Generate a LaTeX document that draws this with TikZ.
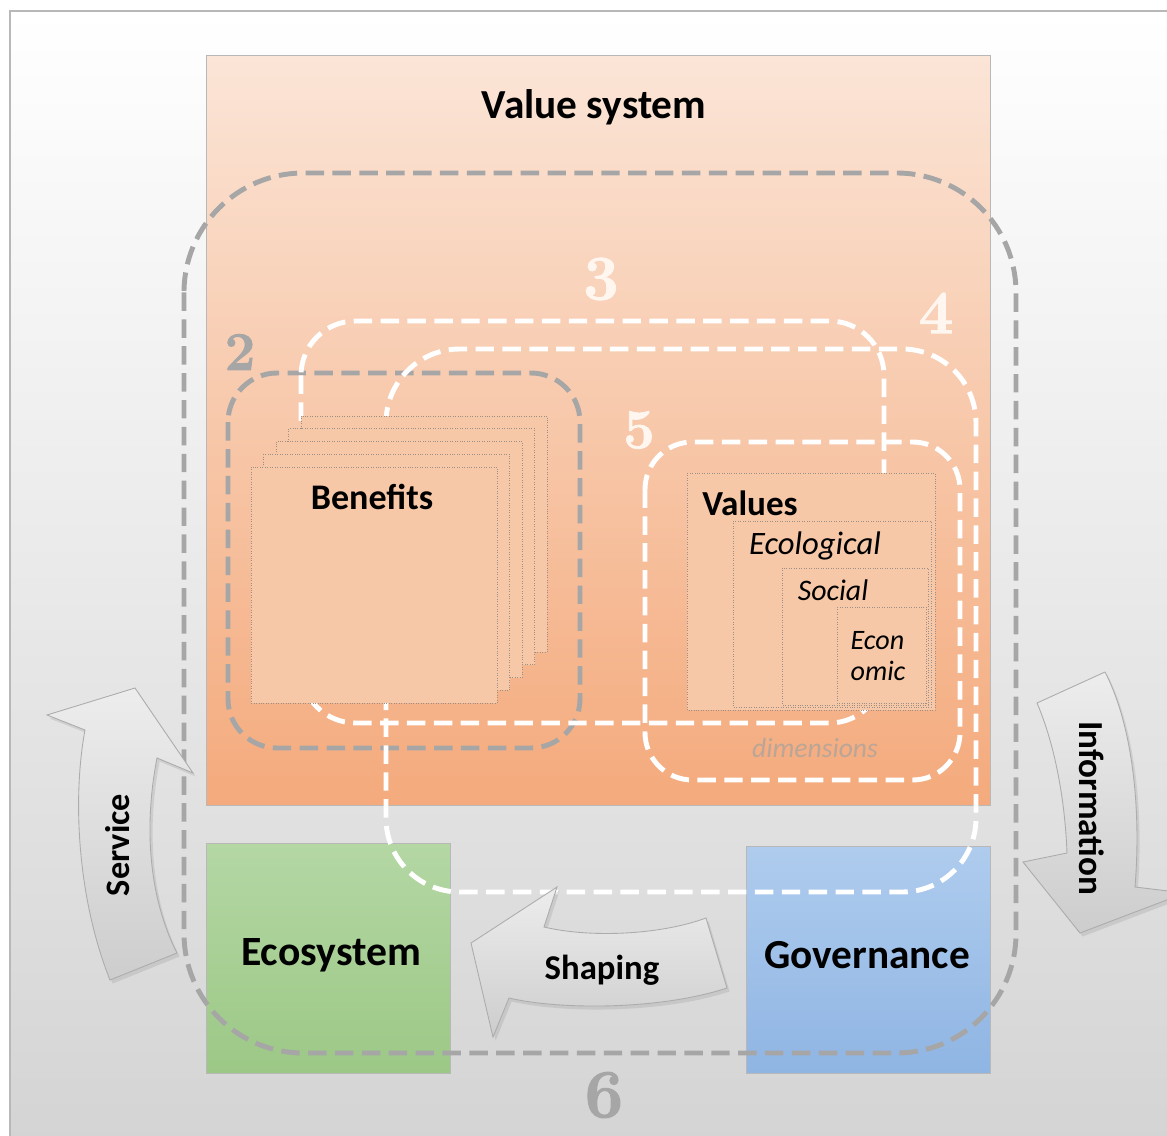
\documentclass[tikz,border=0pt]{standalone}
\usepackage{fontspec}
\setmainfont{Carlito}
\newfontfamily\numfont[FakeBold=1.6]{Latin Modern Roman}
\usetikzlibrary{shadows}

\definecolor{bgmid}{HTML}{EFEFEF}
\definecolor{bgbot}{HTML}{D3D3D3}
\definecolor{framegray}{HTML}{B8B8B8}
\definecolor{vstop}{HTML}{FBE5D7}
\definecolor{vsmid}{HTML}{F7C8A9}
\definecolor{vsbot}{HTML}{F4AA7C}
\definecolor{cardfill}{HTML}{F6C8A8}
\definecolor{cardline}{HTML}{9C8F88}
\definecolor{loopgray}{HTML}{A6A6A6}
\definecolor{numwhite}{HTML}{FFF6EF}
\definecolor{ecotop}{HTML}{B4D7A4}
\definecolor{ecobot}{HTML}{9CC886}
\definecolor{govtop}{HTML}{AFCCEE}
\definecolor{govbot}{HTML}{8FB5E3}
\definecolor{arrowtop}{HTML}{EDEDED}
\definecolor{arrowbot}{HTML}{CDCDCD}
\definecolor{arrowline}{HTML}{ACACAC}
\definecolor{dimtext}{HTML}{BBA597}

\begin{document}
\begin{tikzpicture}[x=0.02cm, y=-0.02cm,
  loopline/.style={dash pattern=on 10.5pt off 4.8pt, line width=2.8pt},
  grayloop/.style={loopline, draw=loopgray},
  whiteloop/.style={loopline, draw=white},
  card/.style={fill=cardfill, draw=cardline, line width=0.4pt, densely dotted},
  blockarrow/.style={draw=arrowline, line width=0.5pt, top color=arrowtop, bottom color=arrowbot,
    drop shadow={opacity=0.2, shadow xshift=1.5pt, shadow yshift=-2pt}},
  boldtxt/.style={font=\bfseries\fontsize{#1}{#1}\selectfont, inner sep=0pt},
  itxt/.style={font=\itshape\fontsize{#1}{#1}\selectfont, inner sep=0pt},
  numtxt/.style={font=\numfont\bfseries\fontsize{#1}{#1}\selectfont, inner sep=0pt}]
 \useasboundingbox (0,0) rectangle (1167,1136);
 \clip (0,0) rectangle (1167,1136);
 \fill [white] (0,0) rectangle (1167,1136);
 \shade [top color=white, middle color=bgmid, bottom color=bgbot, draw=framegray, line width=0.8pt] (10,11) rectangle (1200,1170);
 \begin {scope}
  \shade [top color=vstop, middle color=vsmid, bottom color=vsbot, draw=framegray, line width=0.5pt] (206,55) rectangle (990,805);
  \shade [top color=ecotop, bottom color=ecobot, draw=framegray, line width=0.5pt] (206,843) rectangle (450,1073);
  \shade [top color=govtop, bottom color=govbot, draw=framegray, line width=0.5pt] (746,846) rectangle (990,1073);
 \end {scope}
 \draw [grayloop, rounded corners=68pt] (184,173) rectangle (1016,1053);
 \draw [grayloop, rounded corners=28pt] (228,373) rectangle (580,748);
 \draw [whiteloop, rounded corners=31pt] (301,321) rectangle (884,723);
 \draw [whiteloop, rounded corners=42pt] (386,349) rectangle (976,892);
 \foreach \i in {4,3,2,1,0}
  \draw [card] ({251+12.5*\i},{467-12.75*\i}) rectangle ++(246,236);
 \draw [card] (687,473) rectangle (935,710);
 \draw [card] (733,521) rectangle (931,707);
 \draw [card] (782,568) rectangle (928,705);
 \draw [card] (837,607) rectangle (926,703);
 \draw [whiteloop, rounded corners=27pt] (645,442) rectangle (960,780);
 \node [boldtxt=23.5] (title) at (594,107) {Value system};
 \node [boldtxt=20.5] (benefits) at (372,497) {Benefits};
 \node [boldtxt=20] (values) at (750,503) {Values};
 \node [itxt=18.6] (ecological) at (815,546) {Ecological};
 \node [itxt=17] (social) at (833,590) {Social};
 \node [font=\itshape\fontsize{16}{17.6}\selectfont, inner sep=0pt, align=left] (economic) at (878,656) {Econ\\omic};
 \node [itxt=15.7, text=dimtext] (dims) at (815,748) {dimensions};
 \node [boldtxt=23.7] (ecosystem) at (331,955) {Ecosystem};
 \node [boldtxt=23.5] (governance) at (867,955) {Governance};
 \node [numtxt=31, text=loopgray] (num2) at (240,352) {2};
 \node [numtxt=36, text=numwhite] (num3) at (601,279) {3};
 \node [numtxt=35, text=numwhite] (num4) at (936,313) {4};
 \node [numtxt=32, text=numwhite] (num5) at (639,430) {5};
 \node [numtxt=39, text=loopgray] (num6) at (604,1095) {6};
 \draw [blockarrow] (110,980) .. controls (78,900) and (72,800) .. (85,730) -- (47,715) -- (135,688) -- (193,773) -- (157,758)
   .. controls (143,830) and (150,900) .. (177,953) -- cycle;
 \node [boldtxt=19.5, rotate=90] (service) at (118,845) {Service};
 \draw [blockarrow] (706,918) .. controls (660,935) and (590,938) .. (544,927) -- (557,887) -- (471,943) -- (493,1037) -- (509,998)
   .. controls (560,1010) and (660,1010) .. (727,988) -- cycle;
 \node [boldtxt=19.8] (shaping) at (602,970) {Shaping};
 \draw [blockarrow] (1037,703) -- (1105,672) .. controls (1130,720) and (1142,800) .. (1135,887) -- (1185,893) -- (1080,933)
   -- (1023,862) -- (1067,853) .. controls (1065,800) and (1055,745) .. (1037,703) -- cycle;
 \node [boldtxt=20, rotate=-90] (information) at (1092,808) {Information};
\end{tikzpicture}
\end{document}
